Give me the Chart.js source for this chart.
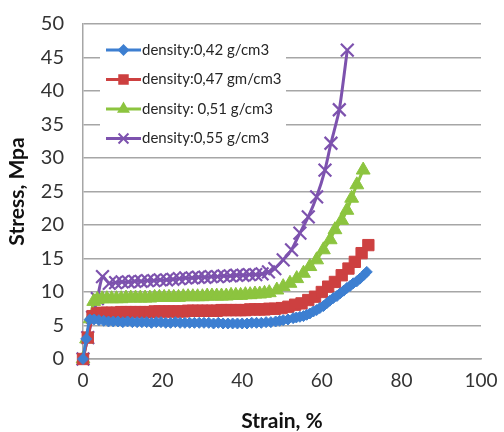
<!DOCTYPE html>
<html>
<head>
<meta charset="utf-8">
<script src="https://cdn.jsdelivr.net/npm/chart.js@4.4.1/dist/chart.umd.min.js"></script>
<style>
  html, body { margin: 0; padding: 0; background: #ffffff; }
  #wrap { width: 504px; height: 432px; }
</style>
</head>
<body>
<div id="wrap"><canvas id="stressChart" width="504" height="432"></canvas></div>
<script>
// Stress-strain curves for four foam densities.

const seriesLabels = [
  "density:0,42 g/cm3",
  "density:0,47 gm/cm3",
  "density: 0,51 g/cm3",
  "density:0,55 g/cm3"
];

const xTicks = [0, 20, 40, 60, 80, 100];
const yTicks = [0, 5, 10, 15, 20, 25, 30, 35, 40, 45, 50];

// ===== density 0.42 (blue) =====
const strain042 = [0, 0.8, 1.7, 2.8,
  4.0, 5.2, 6.4, 7.6, 8.8, 10.0, 11.2, 12.4, 13.6, 14.8, 16.0, 17.2, 18.4, 19.6, 20.8, 22.0,
  23.2, 24.4, 25.6, 26.8, 28.0, 29.2, 30.4, 31.6, 32.8, 34.0, 35.2, 36.4, 37.6, 38.8, 40.0,
  41.2, 42.4, 43.6, 44.8, 46.0, 47.2, 48.4,
  49.4, 50.3, 51.5, 52.8, 53.6, 54.5, 55.4, 56.2, 57.0, 57.9, 58.7, 59.5, 60.4, 61.2, 62.0,
  62.9, 63.8, 64.6, 65.5, 66.3, 67.1, 67.9, 68.8, 69.6, 70.5, 71.3];
const stress042 = [0, 3.0, 5.9, 5.9,
  5.8, 5.7, 5.6, 5.6, 5.6, 5.5, 5.6, 5.5, 5.5, 5.5, 5.5, 5.4, 5.5, 5.5, 5.4, 5.4,
  5.5, 5.4, 5.4, 5.4, 5.4, 5.4, 5.4, 5.4, 5.3, 5.4, 5.3, 5.3, 5.3, 5.3, 5.3,
  5.3, 5.4, 5.4, 5.4, 5.5, 5.5, 5.6,
  5.7, 5.8, 5.9, 6.1, 6.2, 6.3, 6.4, 6.6, 6.8, 7.1, 7.3, 7.6, 7.9, 8.3, 8.7,
  9.1, 9.4, 9.8, 10.2, 10.6, 10.9, 11.3, 11.6, 12.0, 12.5, 13.0];

// ===== density 0.47 (red) =====
const strain047 = [0, 1.2, 2.4,
  3.6, 4.8, 6.0, 7.2, 8.4, 9.6, 10.8, 12.0, 13.2, 14.4, 15.6, 16.8, 18.0, 19.2, 20.4, 21.6,
  22.8, 24.0, 25.2, 26.4, 27.6, 28.8, 30.0, 31.2, 32.4, 33.6, 34.8, 36.0, 37.2, 38.4, 39.6,
  40.8, 42.0, 43.2, 44.4, 45.6, 46.8,
  48.2, 49.9, 51.6, 53.3, 54.9, 56.6, 58.3, 60.0, 61.6, 63.3, 65.0, 66.7, 68.3, 70.0, 71.7];
const stress047 = [0, 3.2, 6.4,
  6.8, 6.9, 6.9, 6.9, 6.9, 7.0, 7.0, 7.0, 7.0, 7.0, 7.0, 7.0, 7.1, 7.1, 7.1, 7.1,
  7.1, 7.1, 7.1, 7.2, 7.2, 7.2, 7.2, 7.2, 7.2, 7.2, 7.3, 7.3, 7.3, 7.3, 7.3,
  7.3, 7.4, 7.4, 7.4, 7.4, 7.5,
  7.5, 7.6, 7.8, 8.1, 8.3, 8.8, 9.3, 10.0, 10.8, 11.5, 12.5, 13.5, 14.5, 15.8, 17.0];

// ===== density 0.51 (green) =====
const strain051 = [0, 0.9, 1.8, 2.7,
  3.6, 4.8, 6.0, 7.2, 8.4, 9.6, 10.8, 12.0, 13.2, 14.4, 15.6, 16.8, 18.0, 19.2, 20.4, 21.6,
  22.8, 24.0, 25.2, 26.4, 27.6, 28.8, 30.0, 31.2, 32.4, 33.6, 34.8, 36.0, 37.2, 38.4, 39.6,
  40.8, 42.0, 43.2, 44.4, 45.6, 46.8,
  48.7, 50.3, 52.0, 53.7, 55.4, 57.0, 58.7, 60.4, 62.1, 63.3, 65.0, 66.3, 67.5, 68.8, 70.4];
const stress051 = [0, 3.0, 6.0, 8.6,
  8.9, 9.0, 9.0, 9.0, 9.0, 9.0, 9.1, 9.1, 9.1, 9.1, 9.1, 9.1, 9.2, 9.2, 9.2, 9.2,
  9.2, 9.2, 9.3, 9.3, 9.3, 9.3, 9.3, 9.4, 9.4, 9.4, 9.4, 9.4, 9.5, 9.5, 9.5,
  9.6, 9.6, 9.7, 9.7, 9.8, 9.9,
  10.3, 10.8, 11.3, 12.0, 12.8, 13.8, 14.8, 16.3, 17.8, 19.3, 20.7, 22.2, 24.0, 26.0, 28.2];

// ===== density 0.55 (purple) =====
const strain055 = [0, 1.2, 2.4, 3.6, 4.9,
  6.6, 8.2, 9.8, 11.4, 13.0, 14.6, 16.2, 17.8, 19.4, 21.0, 22.6, 24.2, 25.8, 27.4, 29.0,
  30.6, 32.2, 33.8, 35.4, 37.0, 38.6, 40.2, 41.8, 43.4, 45.0,
  46.6, 48.2, 50.3, 52.4, 54.5, 56.6, 58.7, 60.8, 62.3, 64.4, 66.4];
const stress055 = [0, 3.2, 6.2, 9.0, 12.3,
  11.3, 11.4, 11.5, 11.5, 11.6, 11.6, 11.7, 11.7, 11.8, 11.8, 11.9, 12.0, 12.1, 12.1, 12.2,
  12.2, 12.3, 12.3, 12.4, 12.4, 12.5, 12.5, 12.6, 12.6, 12.7,
  13.0, 13.5, 14.8, 16.3, 18.8, 21.2, 24.2, 28.2, 32.2, 37.2, 46.1];

function toPoints(xs, ys) {
  return xs.map((x, i) => ({ x: x, y: ys[i] }));
}

const tickFont = { family: "Lato", size: 19 };
const titleFont = { family: "Lato", size: 21, weight: "bold", lineHeight: 1 };
const gridGray = "#a6a6a6";

// legend drawn inside the plot, top-left, like the original
const insideLegend = {
  id: "insideLegend",
  afterDatasetsDraw(chart) {
    const ctx = chart.ctx;
    ctx.save();
    ctx.fillStyle = "#ffffff";
    ctx.fillRect(100, 33, 186, 119);
    chart.data.datasets.forEach((ds, i) => {
      const y = 50 + i * 29.5;
      ctx.strokeStyle = ds.borderColor;
      ctx.lineWidth = 3;
      ctx.beginPath();
      ctx.moveTo(106, y);
      ctx.lineTo(141, y);
      ctx.stroke();
      ctx.fillStyle = ds.pointBackgroundColor;
      ctx.strokeStyle = ds.pointBorderColor;
      ctx.lineWidth = 2;
      Chart.helpers.drawPoint(ctx, {
        pointStyle: ds.pointStyle,
        radius: ds.legendRadius,
        borderWidth: 1.5,
        rotation: 0
      }, 123.5, y);
      ctx.fillStyle = "#262626";
      ctx.font = "15px Lato";
      ctx.textBaseline = "middle";
      ctx.textAlign = "left";
      ctx.fillText(ds.label, 142, y);
    });
    ctx.restore();
  }
};

function makeSeries(label, xs, ys, color, style, radius, legendRadius) {
  return {
    label: label,
    data: toPoints(xs, ys),
    borderColor: color,
    backgroundColor: color,
    pointBackgroundColor: color,
    pointBorderColor: color,
    pointStyle: style,
    pointRadius: radius,
    pointHoverRadius: radius,
    pointBorderWidth: style === "crossRot" ? 2.2 : 1,
    borderWidth: 3,
    tension: 0.2,
    clip: false,
    legendRadius: legendRadius
  };
}

const ctx = document.getElementById("stressChart").getContext("2d");

new Chart(ctx, {
  type: "line",
  data: {
    datasets: [
      makeSeries(seriesLabels[0], strain042, stress042, "#3d7fd1", "rectRot", 5.5, 4.5),
      makeSeries(seriesLabels[1], strain047, stress047, "#cd4040", "rect", 8, 6),
      makeSeries(seriesLabels[2], strain051, stress051, "#8cc43f", "triangle", 8, 5.5),
      makeSeries(seriesLabels[3], strain055, stress055, "#7d52ae", "crossRot", 9, 7)
    ]
  },
  options: {
    responsive: false,
    animation: false,
    layout: { padding: { top: 24, right: 23, left: 0, bottom: 0 } },
    plugins: {
      legend: { display: false },
      tooltip: { enabled: false }
    },
    scales: {
      x: {
        type: "linear",
        min: 0,
        max: 100,
        afterBuildTicks: (scale) => { scale.ticks = xTicks.map(v => ({ value: v })); },
        afterFit: (scale) => {
          scale.height = 73;
          scale.paddingLeft = 0;
          scale.paddingRight = 0;
        },
        ticks: { color: "#333333", font: tickFont, padding: 10, maxRotation: 0 },
        grid: { display: false, drawTicks: false },
        border: { display: true, color: gridGray, width: 1.5 },
        title: {
          display: true,
          text: "Strain, %",
          color: "#111111",
          font: titleFont,
          padding: { top: 0, bottom: 0 }
        }
      },
      y: {
        type: "linear",
        min: 0,
        max: 50,
        afterBuildTicks: (scale) => { scale.ticks = yTicks.map(v => ({ value: v })); },
        afterFit: (scale) => {
          scale.width = 83;
          scale.paddingTop = 0;
          scale.paddingBottom = 0;
        },
        ticks: { color: "#333333", font: { family: "Lato", size: 20 }, padding: 19 },
        grid: { color: gridGray, lineWidth: 1.5, drawTicks: false },
        border: { display: true, color: gridGray, width: 1.5 },
        title: {
          display: true,
          text: "Stress, Mpa",
          color: "#111111",
          font: titleFont,
          padding: { top: 7, bottom: 0 }
        }
      }
    }
  },
  plugins: [insideLegend]
});
</script>
</body>
</html>
